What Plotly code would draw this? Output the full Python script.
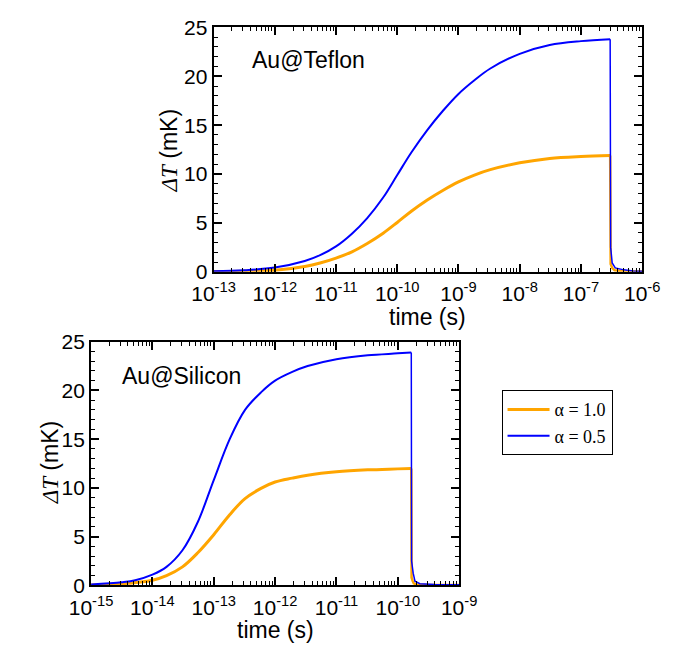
import numpy as np
import plotly.graph_objects as go

# ---------------- data (log10 of time in s, temperature rise in mK) ----------------
# Au@Teflon, alpha = 1.0 (orange): rise during pulse, then decay after pulse end
tef_a1_logt = [-13.0, -12.5, -12.0, -11.51, -11.26, -11.0, -10.74, -10.49, -10.23, -10.0,
               -9.77, -9.51, -9.25, -9.0, -8.74, -8.48, -8.0, -7.51, -7.0, -6.523]
tef_a1_dT = [0.02, 0.06, 0.16, 0.55, 0.9, 1.4, 2.05, 2.9, 3.95, 5.05,
             6.2, 7.35, 8.35, 9.2, 9.9, 10.45, 11.15, 11.6, 11.8, 11.9]
tef_a1_tail_logt = [-6.523, -6.515, -6.49, -6.45, -6.3, -6.0]
tef_a1_tail_dT = [11.9, 0.8, 0.4, 0.15, 0.06, 0.03]
# Au@Teflon, alpha = 0.5 (blue)
tef_a05_logt = [-13.0, -12.5, -12.0, -11.51, -11.26, -11.0, -10.74, -10.49, -10.23, -10.0,
                -9.77, -9.51, -9.25, -9.0, -8.74, -8.48, -8.0, -7.51, -7.0, -6.523]
tef_a05_dT = [0.07, 0.16, 0.43, 1.1, 1.7, 2.6, 3.9, 5.5, 7.6, 9.9,
              12.2, 14.5, 16.5, 18.2, 19.6, 20.8, 22.3, 23.2, 23.6, 23.8]
tef_a05_tail_logt = [-6.523, -6.515, -6.49, -6.44, -6.3, -6.15, -6.0]
tef_a05_tail_dT = [23.8, 2.5, 0.9, 0.4, 0.2, 0.08, 0.05]

# Au@Silicon, alpha = 1.0 (orange)
sil_a1_logt = [-15.0, -14.5, -14.0, -13.77, -13.51, -13.26, -13.0, -12.74, -12.49, -12.23,
               -12.0, -11.72, -11.47, -11.0, -10.49, -10.0, -9.78]
sil_a1_dT = [0.05, 0.17, 0.53, 1.0, 1.9, 3.35, 5.2, 7.25, 8.9, 9.95,
             10.6, 11.0, 11.3, 11.65, 11.85, 11.95, 12.0]
sil_a1_tail_logt = [-9.78, -9.775, -9.76, -9.74, -9.7, -9.5, -9.0]
sil_a1_tail_dT = [12.0, 0.8, 0.5, 0.2, 0.08, 0.04, 0.03]
# Au@Silicon, alpha = 0.5 (blue)
sil_a05_logt = [-15.0, -14.5, -14.28, -14.0, -13.77, -13.51, -13.26, -13.0, -12.74, -12.49,
                -12.23, -12.0, -11.72, -11.47, -11.0, -10.49, -10.0, -9.78]
sil_a05_dT = [0.1, 0.33, 0.53, 1.1, 1.9, 3.6, 6.5, 10.8, 15.0, 18.0,
              19.8, 21.0, 21.9, 22.5, 23.2, 23.6, 23.8, 23.9]
sil_a05_tail_logt = [-9.78, -9.775, -9.749, -9.72, -9.64, -9.4, -9.0]
sil_a05_tail_dT = [23.9, 2.5, 1.25, 0.43, 0.17, 0.08, 0.06]

series_names = ["\u03b1 = 1.0", "\u03b1 = 0.5"]
series_colors = ["#FFA500", "#0000FF"]
series_widths = [3, 2]

top_ticks_exp = [-13, -12, -11, -10, -9, -8, -7, -6]
bot_ticks_exp = [-15, -14, -13, -12, -11, -10, -9]
y_ticks = [0, 5, 10, 15, 20, 25]

# ---------------- figure ----------------
W, H = 691, 653
fig = go.Figure()

def add(logt, dT, tail_logt, tail_dT, xa, ya, i, show):
    fig.add_trace(go.Scatter(
        x=10 ** np.array(logt), y=dT, xaxis=xa, yaxis=ya, mode="lines",
        name=series_names[i], legendgroup=str(i), showlegend=show,
        line=dict(color=series_colors[i], width=series_widths[i], shape="spline", smoothing=1.0)))
    fig.add_trace(go.Scatter(
        x=10 ** np.array(tail_logt), y=tail_dT, xaxis=xa, yaxis=ya, mode="lines",
        name=series_names[i], legendgroup=str(i), showlegend=False,
        line=dict(color=series_colors[i], width=series_widths[i] - 0.5)))

add(tef_a1_logt, tef_a1_dT, tef_a1_tail_logt, tef_a1_tail_dT, "x", "y", 0, True)
add(tef_a05_logt, tef_a05_dT, tef_a05_tail_logt, tef_a05_tail_dT, "x", "y", 1, True)
add(sil_a1_logt, sil_a1_dT, sil_a1_tail_logt, sil_a1_tail_dT, "x2", "y2", 0, False)
add(sil_a05_logt, sil_a05_dT, sil_a05_tail_logt, sil_a05_tail_dT, "x2", "y2", 1, False)

tickfont = dict(family="Liberation Sans, Arial, sans-serif", size=21, color="black")

def xaxis_cfg(exps, domain, anchor):
    minor_vals = [k * 10.0 ** e for e in exps[:-1] for k in range(2, 10)]
    return dict(type="log", range=[exps[0], exps[-1]], domain=domain, anchor=anchor,
                tickvals=[10.0 ** e for e in exps],
                ticktext=["10<sup>%d</sup>" % e for e in exps],
                showline=True, linecolor="black", linewidth=2, mirror="ticks",
                ticks="inside", ticklen=8, tickwidth=1.5, tickcolor="black",
                minor=dict(tickvals=minor_vals, ticks="inside", ticklen=4, tickwidth=1,
                           tickcolor="black", showgrid=False),
                showgrid=False, zeroline=False, tickfont=tickfont, ticklabelstandoff=2)

def yaxis_cfg(domain, anchor):
    return dict(range=[0, 25], domain=domain, anchor=anchor, tickvals=y_ticks,
                showline=True, linecolor="black", linewidth=2, mirror="ticks",
                ticks="inside", ticklen=8, tickwidth=1.5, tickcolor="black",
                minor=dict(dtick=1, ticks="inside", ticklen=4, tickwidth=1,
                           tickcolor="black", showgrid=False),
                showgrid=False, zeroline=False, tickfont=tickfont)

top_x = [203.3 / W, 658.3 / W]
top_y = [1 - 269.3 / H, 1 - 16 / H]
bot_x = [73.3 / W, 464 / W]
bot_y = [1 - 594.3 / H, 1 - 341.7 / H]

titlefont = dict(family="Liberation Sans, Arial, sans-serif", size=23, color="black")
ytitle = ("<span style='font-family:Liberation Serif'><i>\u0394T</i></span> (mK)")

annotations = [
    dict(text="Au@Teflon", x=242 / W, y=1 - 50 / H, xanchor="left", yanchor="middle"),
    dict(text="Au@Silicon", x=104 / W, y=1 - 377 / H, xanchor="left", yanchor="middle"),
    dict(text="time (s)", x=430.8 / W, y=1 - 316 / H, xanchor="center", yanchor="middle"),
    dict(text="time (s)", x=268.7 / W, y=1 - 641 / H, xanchor="center", yanchor="middle"),
    dict(text=ytitle, x=156.5 / W, y=1 - 143 / H, xanchor="center", yanchor="middle", textangle=-90),
    dict(text=ytitle, x=29.5 / W, y=1 - 467 / H, xanchor="center", yanchor="middle", textangle=-90),
]
for a in annotations:
    a.update(xref="paper", yref="paper", showarrow=False, font=titlefont)

fig.update_layout(
    width=W, height=H, margin=dict(l=0, r=0, t=0, b=0),
    paper_bgcolor="white", plot_bgcolor="white",
    xaxis=xaxis_cfg(top_ticks_exp, top_x, "y"),
    yaxis=yaxis_cfg(top_y, "x"),
    xaxis2=xaxis_cfg(bot_ticks_exp, bot_x, "y2"),
    yaxis2=yaxis_cfg(bot_y, "x2"),
    annotations=annotations,
    legend=dict(x=509 / W, y=1 - 392 / H, xanchor="left", yanchor="top",
                bordercolor="black", borderwidth=1, bgcolor="white",
                font=dict(family="Liberation Serif, Times New Roman, serif", size=18, color="black"),
                itemwidth=42, tracegroupgap=0),
    showlegend=True,
)

fig.write_html("out.html")
